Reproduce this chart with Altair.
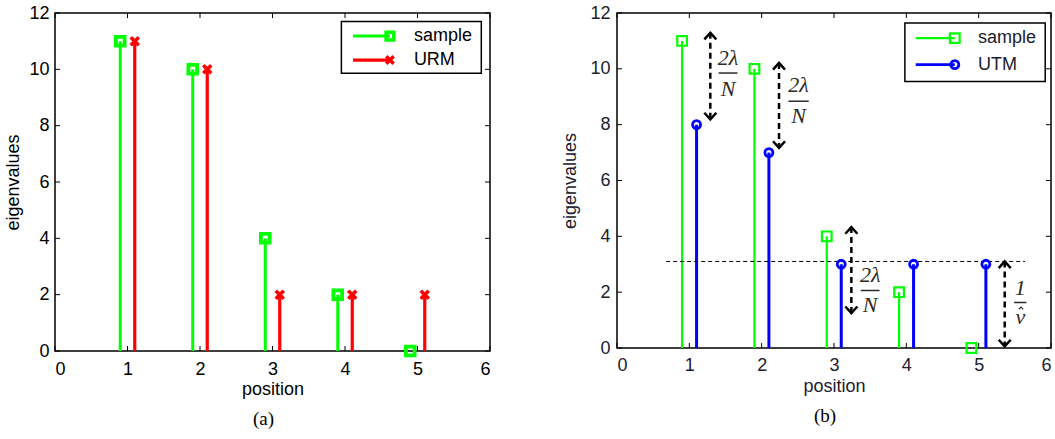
import altair as alt
import pandas as pd

# ---------------- data ----------------
positions = [1, 2, 3, 4, 5]
sample_vals = [11, 10, 4, 2, 0]
urm_vals = [11, 10, 2, 2, 2]
utm_vals = [8, 7, 3, 3, 3]
x_ticks = [0, 1, 2, 3, 4, 5, 6]
y_ticks = [0, 2, 4, 6, 8, 10, 12]
shift = 0.1

# dashed threshold line (panel b)
threshold = 3.1
threshold_span = [0.68, 5.64]

# double arrows (panel b)
arrow_x = [1.29, 2.24, 3.24, 5.36]
arrow_top = [11.29, 10.21, 4.33, 3.1]
arrow_bottom = [8.19, 7.17, 1.25, 0.06]

# fraction annotations (panel b)
frac_x = [1.535, 2.51, 3.50, 5.575]
frac_half = [0.13, 0.14, 0.13, 0.085]
frac_num = ["2λ", "2λ", "2λ", "1"]
frac_den = ["N", "N", "N", "ν"]
num_y = [10.39, 9.43, 2.60, 2.15]
bar_y = [9.85, 8.84, 2.06, 1.63]
den_y = [9.29, 8.30, 1.55, 1.12]
hat_x = [5.585]
hat_y = [1.43]

# legend placements in data units
leg_a_box_x = [3.95, 5.88]
leg_a_box_y = [9.86, 11.70]
leg_a_rows = [11.18, 10.33]
leg_a_line_x = [4.11, 4.62]
leg_a_text_x = 4.95

leg_b_box_x = [3.98, 5.92]
leg_b_box_y = [9.55, 11.64]
leg_b_rows = [11.10, 10.15]
leg_b_line_x = [4.13, 4.67]
leg_b_text_x = 4.99

# ---------------- styling ----------------
GREEN = "#00ff00"
RED = "#ff0000"
BLUE = "#0000ff"
SANS = "Liberation Sans"
SERIF = "Liberation Serif"
X_SHAPE = "M-1,-1L1,1M-1,1L1,-1"
UP = "M-1,1.1L0,0L1,1.1"
DOWN = "M-1,-1.1L0,0L1,-1.1"
HAT = "M-1,0.6L0,-0.4L1,0.6"

XS = alt.Scale(domain=[0, 6], nice=False, zero=False)
YS = alt.Scale(domain=[0, 12], nice=False, zero=False)


def make_axes(color, lab_pad_x, lab_pad_y, title_pad_x, title_pad_y):
    common = dict(labelFont=SANS, labelFontSize=18, labelColor=color,
                  titleFont=SANS, titleFontSize=18, titleFontWeight="normal",
                  titleColor=color, ticks=False, domain=False, grid=False)
    ax = alt.Axis(values=x_ticks, title="position", labelPadding=lab_pad_x,
                  titlePadding=title_pad_x, format="d", **common)
    ay = alt.Axis(values=y_ticks, title="eigenvalues", labelPadding=lab_pad_y,
                  titlePadding=title_pad_y, format="d", **common)
    return ax, ay


class Panel:
    def __init__(self, ax, ay, W, H):
        self.ax, self.ay, self.W, self.H = ax, ay, W, H

    def X(self, f):
        return alt.X(f, type="quantitative", scale=XS, axis=self.ax)

    def Y(self, f):
        return alt.Y(f, type="quantitative", scale=YS, axis=self.ay)

    def stems(self, xs, ys, color, width):
        df = pd.DataFrame({"x": xs, "y": ys})
        return alt.Chart(df).mark_rule(color=color, strokeWidth=width).encode(
            x=self.X("x"), y=self.Y("y"), y2=alt.datum(0))

    def markers(self, xs, ys, color, shape, size, sw):
        df = pd.DataFrame({"x": xs, "y": ys})
        return alt.Chart(df).mark_point(shape=shape, size=size, color=color,
                                        strokeWidth=sw, filled=False, opacity=1).encode(
            x=self.X("x"), y=self.Y("y"))

    def inner_ticks(self, color):
        W, H, L = self.W, self.H, 5
        tx = pd.DataFrame({"v": x_ticks})
        ty = pd.DataFrame({"v": y_ticks})
        rule = dict(color=color, strokeWidth=1)
        return [
            alt.Chart(tx).mark_rule(**rule).encode(x=self.X("v"), y=alt.value(H), y2=alt.value(H - L)),
            alt.Chart(tx).mark_rule(**rule).encode(x=self.X("v"), y=alt.value(0), y2=alt.value(L)),
            alt.Chart(ty).mark_rule(**rule).encode(y=self.Y("v"), x=alt.value(0), x2=alt.value(L)),
            alt.Chart(ty).mark_rule(**rule).encode(y=self.Y("v"), x=alt.value(W), x2=alt.value(W - L)),
        ]

    def legend(self, box_x, box_y, rows, line_x, text_x, entries, text_color):
        box_df = pd.DataFrame({"x": [box_x[0]], "x2": [box_x[1]],
                               "y": [box_y[0]], "y2": [box_y[1]]})
        layers = [alt.Chart(box_df).mark_rect(fill="white", stroke="black",
                                              strokeWidth=1.5).encode(
            x=self.X("x"), x2="x2:Q", y=self.Y("y"), y2="y2:Q")]
        for ry, (label, color, lw, shape, size, sw) in zip(rows, entries):
            ldf = pd.DataFrame({"x": [line_x[0]], "x2": [line_x[1]], "y": [ry]})
            layers.append(alt.Chart(ldf).mark_rule(color=color, strokeWidth=lw).encode(
                x=self.X("x"), x2="x2:Q", y=self.Y("y")))
            layers.append(self.markers([line_x[1]], [ry], color, shape, size, sw))
            tdf = pd.DataFrame({"x": [text_x], "y": [ry], "t": [label]})
            layers.append(alt.Chart(tdf).mark_text(
                align="left", baseline="middle", font=SANS, fontSize=18,
                color=text_color).encode(x=self.X("x"), y=self.Y("y"), text="t:N"))
        return layers


def caption(text):
    return alt.TitleParams(text, orient="bottom", font=SERIF, fontSize=19,
                           fontWeight="normal", color="black", offset=12,
                           dx=-9, frame="group", anchor="middle")


xs_s = [p - shift for p in positions]
xs_o = [p + shift for p in positions]

# ---------------- panel (a) ----------------
W_A, H_A = 435, 338
pa = Panel(*make_axes("black", 9, 6, 2, 6), W_A, H_A)
layers_a = [
    pa.stems(xs_s, sample_vals, GREEN, 3),
    pa.stems(xs_o, urm_vals, RED, 3.2),
    pa.markers(xs_s, sample_vals, GREEN, "square", 76, 3.8),
    pa.markers(xs_o, urm_vals, RED, X_SHAPE, 64, 3.6),
]
layers_a += pa.inner_ticks("black")
layers_a += pa.legend(leg_a_box_x, leg_a_box_y, leg_a_rows, leg_a_line_x, leg_a_text_x,
                      [("sample", GREEN, 3, "square", 60, 3.5),
                       ("URM", RED, 3.2, X_SHAPE, 56, 3.4)], "black")
panel_a = alt.layer(*layers_a).properties(width=W_A, height=H_A, title=caption("(a)"))

# ---------------- panel (b) ----------------
W_B, H_B = 434, 335
TXT_B = "#202030"
ANN = "#2e2924"
pb = Panel(*make_axes(TXT_B, 8, 7, 3, 10), W_B, H_B)

thr_df = pd.DataFrame({"x": [threshold_span[0]], "x2": [threshold_span[1]], "y": [threshold]})
thr = alt.Chart(thr_df).mark_rule(color="black", strokeWidth=1, strokeDash=[4, 3]).encode(
    x=pb.X("x"), x2="x2:Q", y=pb.Y("y"))

arr_df = pd.DataFrame({"x": arrow_x, "top": arrow_top, "bottom": arrow_bottom})
arr_line = alt.Chart(arr_df).mark_rule(color="black", strokeWidth=2.5, strokeDash=[6, 4]).encode(
    x=pb.X("x"), y=pb.Y("top"), y2="bottom:Q")
arr_up = alt.Chart(arr_df).mark_point(shape=UP, size=144, color="black", strokeWidth=2.5,
                                      filled=False, opacity=1).encode(x=pb.X("x"), y=pb.Y("top"))
arr_down = alt.Chart(arr_df).mark_point(shape=DOWN, size=144, color="black", strokeWidth=2.5,
                                        filled=False, opacity=1).encode(x=pb.X("x"), y=pb.Y("bottom"))

fr_df = pd.DataFrame({"x": frac_x,
                      "x0": [a - h for a, h in zip(frac_x, frac_half)],
                      "x1": [a + h for a, h in zip(frac_x, frac_half)],
                      "num": frac_num, "den": frac_den,
                      "ny": num_y, "by": bar_y, "dy": den_y})
txt_style = dict(font=SERIF, fontStyle="italic", fontSize=22, color=ANN,
                 baseline="middle", align="center")
fr_bar = alt.Chart(fr_df).mark_rule(color=ANN, strokeWidth=1.5).encode(
    x=pb.X("x0"), x2="x1:Q", y=pb.Y("by"))
fr_num = alt.Chart(fr_df).mark_text(**txt_style).encode(x=pb.X("x"), y=pb.Y("ny"), text="num:N")
fr_den = alt.Chart(fr_df).mark_text(**txt_style).encode(x=pb.X("x"), y=pb.Y("dy"), text="den:N")
fr_hat = pb.markers(hat_x, hat_y, ANN, HAT, 20, 1.2)

layers_b = [
    pb.stems(xs_s, sample_vals, GREEN, 2.2),
    pb.stems(xs_o, utm_vals, BLUE, 3),
    thr,
    pb.markers(xs_s, sample_vals, GREEN, "square", 94, 2.2),
    pb.markers(xs_o, utm_vals, BLUE, "circle", 64, 2.8),
    arr_line, arr_up, arr_down, fr_bar, fr_num, fr_den, fr_hat,
]
layers_b += pb.inner_ticks("black")
layers_b += pb.legend(leg_b_box_x, leg_b_box_y, leg_b_rows, leg_b_line_x, leg_b_text_x,
                      [("sample", GREEN, 2.2, "square", 94, 2.2),
                       ("UTM", BLUE, 2.8, "circle", 64, 2.8)], TXT_B)
panel_b = alt.layer(*layers_b).properties(width=W_B, height=H_B, title=caption("(b)"))

chart = (
    alt.hconcat(panel_a, panel_b, spacing=69)
    .properties(padding={"left": 4, "top": 3, "right": 0, "bottom": 0}, background="white")
    .configure_view(stroke="black", strokeWidth=1.5)
)

chart.save("out.html", embed_options={"renderer": "svg", "actions": False})
